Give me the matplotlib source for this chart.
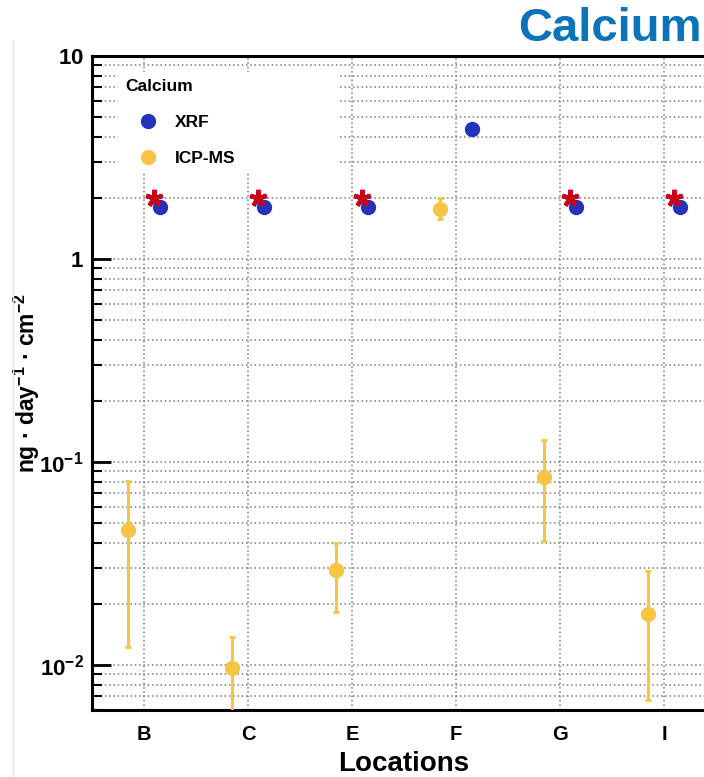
import matplotlib
matplotlib.use('Agg')
import matplotlib.pyplot as plt
import numpy as np
from matplotlib.lines import Line2D
from matplotlib.ticker import LogLocator, NullFormatter

# ---- data ----
locations = ['B', 'C', 'E', 'F', 'G', 'I']
xrf = [1.8, 1.8, 1.8, 4.38, 1.8, 1.8]
icp = [0.0462, 0.0097, 0.0293, 1.77, 0.0843, 0.0179]
icp_lo = [0.0122, 0.004, 0.0182, 1.57, 0.0408, 0.0067]
icp_hi = [0.0808, 0.0138, 0.0397, 1.99, 0.129, 0.0291]
reference = [2.0, 2.0, 2.0, np.nan, 2.0, 2.0]
ytick_vals = [0.01, 0.1, 1, 10]
ytick_labels = [r'$10^{-2}$', r'$10^{-1}$', r'$1$', r'$10$']

plt.rcParams['font.family'] = ['Liberation Sans', 'DejaVu Sans']
plt.rcParams['mathtext.fontset'] = 'custom'
plt.rcParams['mathtext.rm'] = 'Liberation Sans:bold'
plt.rcParams['mathtext.bf'] = 'Liberation Sans:bold'
plt.rcParams['mathtext.it'] = 'Liberation Sans:bold'
plt.rcParams['mathtext.sf'] = 'Liberation Sans:bold'

blue = '#2233bd'
yellow = '#f7c546'
red = '#c8001a'

fig = plt.figure(figsize=(7.04, 7.77), dpi=100)
ax = fig.add_axes([92/704, 1-710/777, 624/704, 654/777])

x = np.arange(len(locations))
icp_a = np.array(icp)
yerr = [icp_a - np.array(icp_lo), np.array(icp_hi) - icp_a]

ax.set_yscale('log')
ax.set_ylim(0.006, 10)
ax.set_xlim(-0.5, 5.5)

ax.errorbar(x - 0.15, icp, yerr=yerr, fmt='o', color=yellow, ms=10,
            elinewidth=2.2, capsize=2.2, capthick=2, zorder=3)
ax.plot(x + 0.15, xrf, ls='none', marker='o', color=blue, ms=10, zorder=4)
ax.plot(x + 0.1, reference, ls='none', marker=(5, 2, 0), ms=12.5, mew=3.2,
        color=red, zorder=5)

# grid
gkw = dict(color='#7a7a7a', ls=(0, (1, 1.8)), lw=1.1)
ax.grid(True, which='major', axis='x', **gkw)
ax.grid(True, which='both', axis='y', **gkw)
ax.set_axisbelow(True)

# ticks
ax.set_xticks(x, locations)
for lab in ax.get_xticklabels():
    lab.set_fontweight('bold')
ax.tick_params(axis='x', length=0, labelsize=14.5, pad=11)
ax.set_yticks(ytick_vals, ytick_labels)
ax.yaxis.set_minor_locator(LogLocator(base=10, subs=np.arange(2, 10), numticks=20))
ax.yaxis.set_minor_formatter(NullFormatter())
ax.tick_params(axis='y', which='major', direction='in', length=14, width=2,
               labelsize=16, pad=6)
ax.tick_params(axis='y', which='minor', direction='in', length=7, width=1.5)

for s in ax.spines.values():
    s.set_linewidth(2.2)

ax.set_xlabel('Locations', fontsize=20, fontweight='bold', labelpad=5)
ax.set_ylabel(r'ng · day$^{-1}$ · cm$^{-2}$', fontsize=16.5, fontweight='bold')
ax.yaxis.set_label_coords(-0.08, 0.5)

# legend
h_xrf = Line2D([], [], ls='none', marker='o', color=blue, ms=10)
h_icp = Line2D([], [], ls='none', marker='o', color=yellow, ms=10)
leg = ax.legend(handles=[h_xrf, h_icp], labels=['XRF', 'ICP-MS'], title='Calcium',
                loc='upper left', bbox_to_anchor=(0.042, 0.821, 0.355, 0.1545),
                mode='expand', borderaxespad=0, frameon=True, fancybox=False,
                framealpha=1, edgecolor='none', facecolor='white',
                prop={'weight': 'bold', 'size': 12.5},
                title_fontproperties={'weight': 'bold', 'size': 12.5},
                alignment='left', handlelength=2.6, handletextpad=0.25,
                labelspacing=1.2, borderpad=0.4)

# title and slide border
fig.text(518/704, 1 - 41/777, 'Calcium', color='#0a73bb', fontsize=34,
         fontweight='bold', ha='left', va='baseline')
fig.add_artist(Line2D([13/704, 13/704], [0, 1 - 40/777], transform=fig.transFigure,
                      color='#e6e6e6', lw=1))

fig.savefig('out.png', dpi=100)
